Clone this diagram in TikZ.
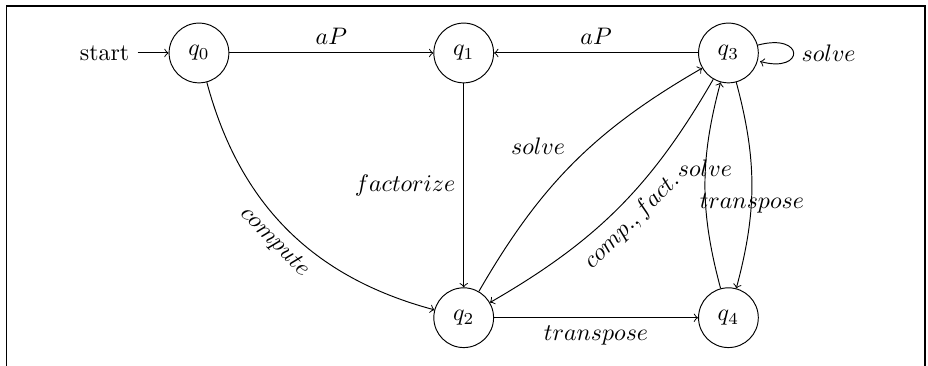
\documentclass[tikz,border=0pt]{standalone}
\usetikzlibrary{automata,positioning}

\begin{document}
\begin{tikzpicture}[->,node distance=3cm,every state/.style={draw,circle,minimum size=2.5em,inner sep=1pt}]
        \useasboundingbox (-2.926,-4.603) rectangle (10.72,0.779);
        \draw [-,line width=0.8pt] (-2.83,-4.603) -- (-2.83,0.69) -- (10.676,0.69) -- (10.676,-4.603);
        \node [state,initial] (q0) {$q_0$};
        \node [state,right=of q0] (q1) {$q_1$};
        \node [state,right=of q1] (q3) {$q_3$};
        \node [state,below=of q1] (q2) {$q_2$};
        \node [state,below=of q3] (q4) {$q_4$};
        \path (q0) edge node [above] {$aP$} (q1)
              (q3) edge node [above] {$aP$} (q1)
              (q3) edge [loop right] node [right] {$solve$} ()
              (q1) edge node [left] {$factorize$} (q2)
              (q0) edge [bend right] node [sloped,below] {$compute$} (q2)
              (q2) edge [bend left=15] node [above left] {$solve$} (q3)
              (q3) edge [bend left=15] node [sloped,below] {$comp., fact.$} (q2)
              (q4) edge [bend left=15] node [above] {$solve$} (q3)
              (q3) edge [bend left=15] node [below] {$transpose$} (q4)
              (q2) edge node [below] {$transpose$} (q4);
    \end{tikzpicture}
\end{document}
